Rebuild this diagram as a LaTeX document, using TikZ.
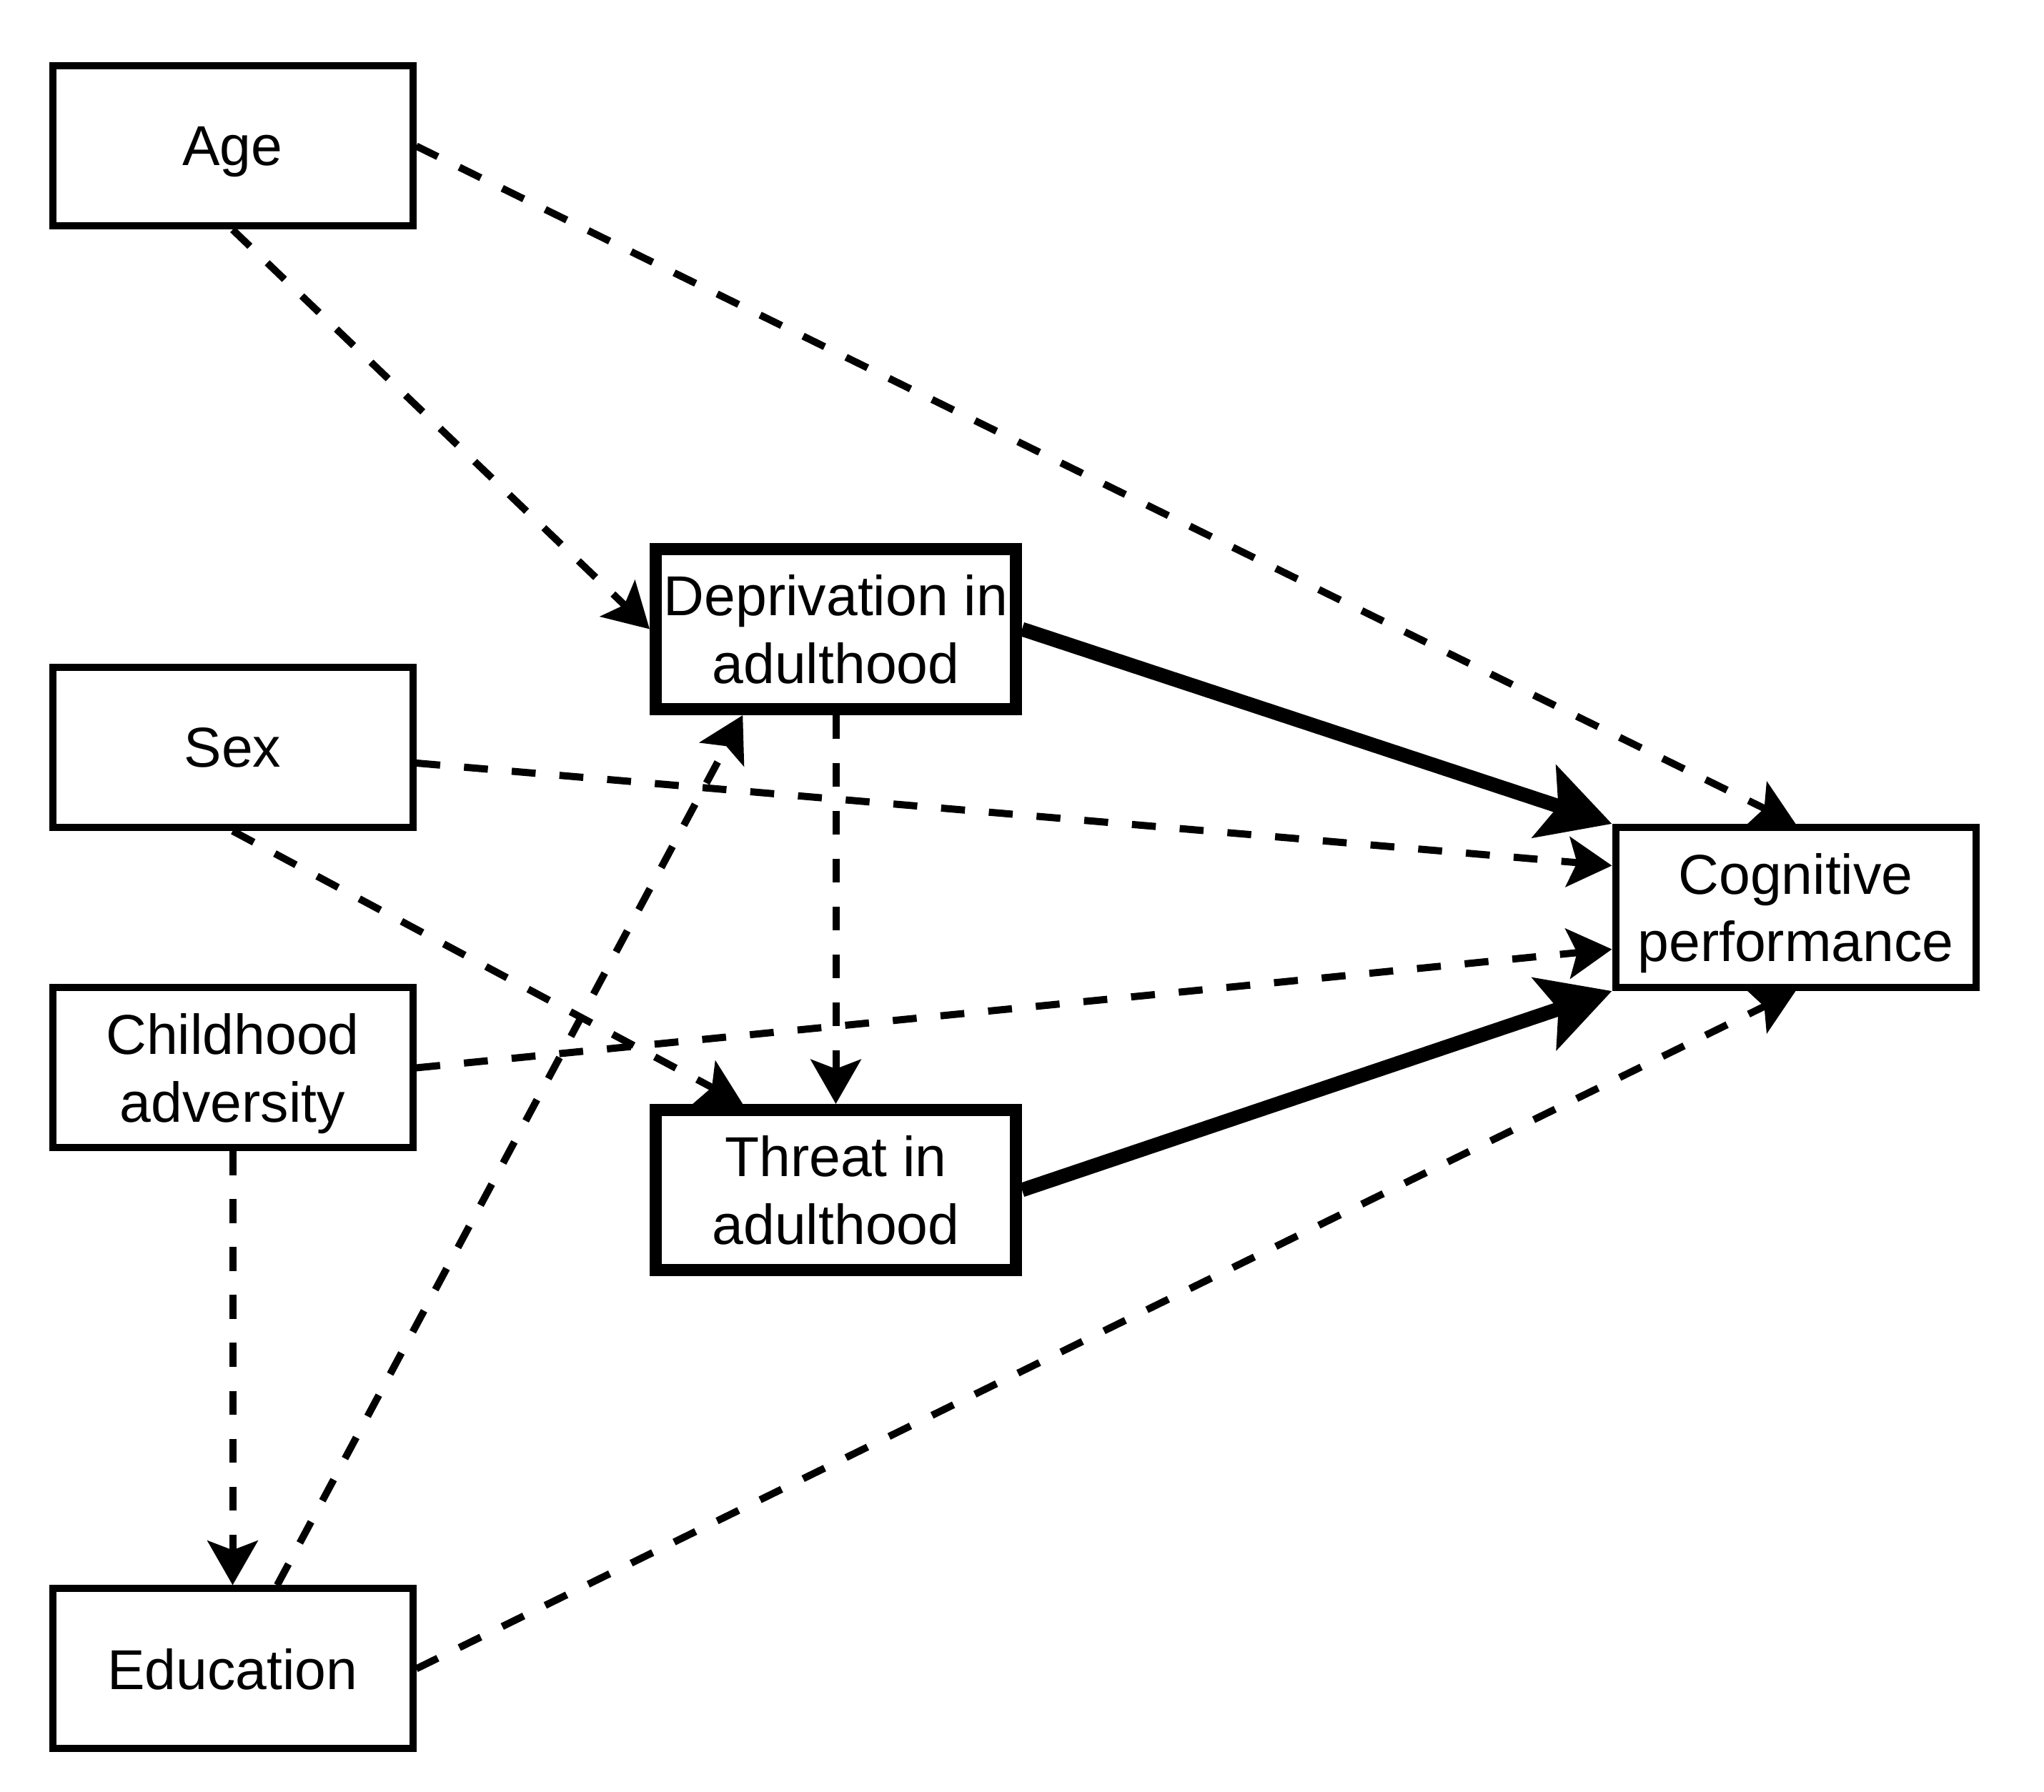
\documentclass[tikz,border=0pt]{standalone}
\usepackage{fontspec}
\setmainfont{Liberation Sans}
\usetikzlibrary{arrows.meta,calc}

\begin{document}
\begin{tikzpicture}[
	box/.style={draw, line width=0.1cm, minimum width=5.04cm, minimum height=2.24cm, inner sep=0pt, text depth=0pt, align=center, font=\fontsize{22.4}{27}\selectfont},
	keybox/.style={box, line width=0.17cm},
	covar/.style={line width=0.1cm, dash pattern=on 0.335cm off 0.335cm, -{Stealth[length=0.62cm,width=0.7cm,inset=0.13cm]}},
	effect/.style={line width=0.2cm, -{Stealth[length=0.99cm,width=1.05cm,inset=0.2cm]}}
	]
	\useasboundingbox (0,0) rectangle (28.6,25.08);

	\node[box] (age) at (3.255,23.035) {Age};
	\node[box] (sex) at (3.255,14.62) {Sex};
	\node[box] (adv) at (3.255,10.135) {Childhood\\adversity};
	\node[box] (edu) at (3.255,1.725) {Education};
	\node[keybox] (depr) at (11.695,16.275) {Deprivation in\\adulthood};
	\node[keybox] (thr) at (11.695,8.425) {Threat in\\adulthood};
	\node[box] (cog) at (25.125,12.38) {Cognitive\\performance};

	\draw[covar] (age.south) -- (depr.west);
	\draw[covar] (age.east) -- (cog.north);
	\draw[covar] (sex) -- ($(cog.north west)!0.25!(cog.south west)$);
	\draw[covar] (sex.south) -- ($(thr.north west)!0.25!(thr.north east)$);
	\draw[covar] (adv.east) -- ($(cog.north west)!0.75!(cog.south west)$);
	\draw[covar] (adv.south) -- (edu.north);
	\draw[covar] (edu) -- ($(depr.south west)!0.25!(depr.south east)$);
	\draw[covar] (edu.east) -- (cog.south);
	\draw[covar] (depr.south) -- (thr.north);

	\draw[effect] (depr.east) -- (cog.north west);
	\draw[effect] (thr.east) -- (cog.south west);
\end{tikzpicture}
\end{document}
